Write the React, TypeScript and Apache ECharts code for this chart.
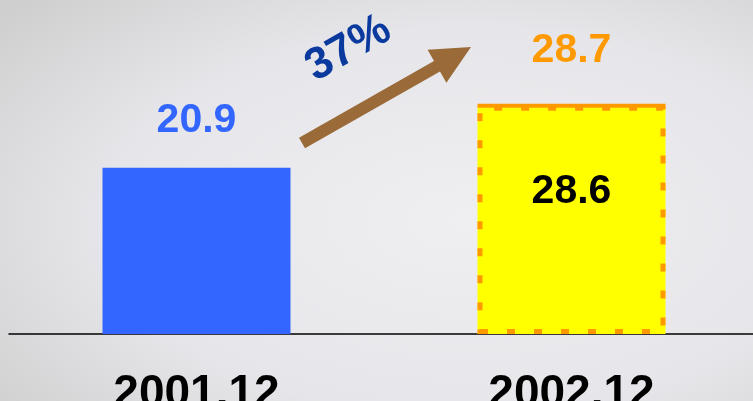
import React, { useEffect, useRef } from "react";
import * as echarts from "echarts";

const categories = ["2001.12", "2002.12"];
const actualValues = [20.9, 28.6];
const planValues: (number | null)[] = [null, 28.7];
const growthLabel = "37%";

const FONT = "'Liberation Sans', Arial, sans-serif";

export default function App() {
  const ref = useRef<HTMLDivElement>(null);
  useEffect(() => {
    if (!ref.current) return;
    const chart = echarts.init(ref.current, undefined, { renderer: "svg" });
    const option: any = {
      animation: false,
      backgroundColor: {
        type: "radial",
        x: 0.62,
        y: 0.55,
        r: 0.8,
        colorStops: [
          { offset: 0, color: "#efeff2" },
          { offset: 0.6, color: "#e6e6ea" },
          { offset: 1, color: "#cfcfcf" },
        ],
      },
      grid: {
        left: 9,
        width: 750,
        top: 16,
        bottom: 67,
        containLabel: false,
        outerBoundsMode: "none",
      },
      xAxis: {
        type: "category",
        data: categories,
        axisLine: { show: true, lineStyle: { color: "#000", width: 1.5 } },
        axisTick: { show: false },
        axisLabel: {
          color: "#000",
          fontSize: 46,
          fontWeight: "bold",
          fontFamily: FONT,
          margin: 34,
        },
      },
      yAxis: {
        type: "value",
        min: 0,
        max: 40,
        show: false,
        splitLine: { show: false },
      },
      series: [
        {
          type: "bar",
          data: actualValues.map((v, i) => ({
            value: v,
            itemStyle: { color: i === 0 ? "#3366FF" : "#FFFF00" },
            label:
              i === 0
                ? {
                    show: true,
                    position: "top",
                    distance: 29,
                    color: "#3366FF",
                    fontSize: 41,
                    fontWeight: "bold",
                    fontFamily: FONT,
                  }
                : {
                    show: true,
                    position: "insideTop",
                    distance: 62,
                    color: "#000",
                    fontSize: 41,
                    fontWeight: "bold",
                    fontFamily: FONT,
                  },
          })),
          barWidth: 188,
          barGap: "-100%",
          z: 2,
        },
        {
          type: "bar",
          data: planValues,
          barWidth: 188,
          barGap: "-100%",
          itemStyle: {
            color: "rgba(0,0,0,0)",
            borderColor: "#FF9900",
            borderWidth: 5,
            borderType: [8, 19],
          },
          label: {
            show: true,
            position: "top",
            distance: 37,
            color: "#FF9900",
            fontSize: 41,
            fontWeight: "bold",
            fontFamily: FONT,
          },
          z: 3,
        },
        {
          type: "custom",
          data: planValues
            .map((v, i) => (v == null ? null : [i, v]))
            .filter((d) => d !== null),
          renderItem: (params: any, api: any) => {
            const p = api.coord([api.value(0), api.value(1)]);
            const half = 94;
            return {
              type: "line",
              shape: { x1: p[0] - half, y1: p[1], x2: p[0] + half, y2: p[1] },
              style: { stroke: "#FF9900", lineWidth: 4 },
            };
          },
          z: 4,
          silent: true,
        },
      ],
      graphic: [
        {
          type: "polygon",
          shape: {
            points: [
              [299, 137.8],
              [434, 61.1],
              [427.6, 49.8],
              [471, 47],
              [446.4, 82.8],
              [440, 71.5],
              [305, 148.2],
            ],
          },
          style: { fill: "#9A6A38" },
          z: 10,
        },
        {
          type: "text",
          x: 347,
          y: 46,
          rotation: 0.52,
          style: {
            text: growthLabel,
            fill: "#0A3A9E",
            font: `bold 45px ${FONT}`,
            textAlign: "center",
            textVerticalAlign: "middle",
          },
          z: 10,
        },
      ],
    };
    chart.setOption(option);
    return () => chart.dispose();
  }, []);
  return (
    <div
      ref={ref}
      style={{ position: "fixed", left: 0, top: 0, width: 753, height: 401 }}
    />
  );
}
